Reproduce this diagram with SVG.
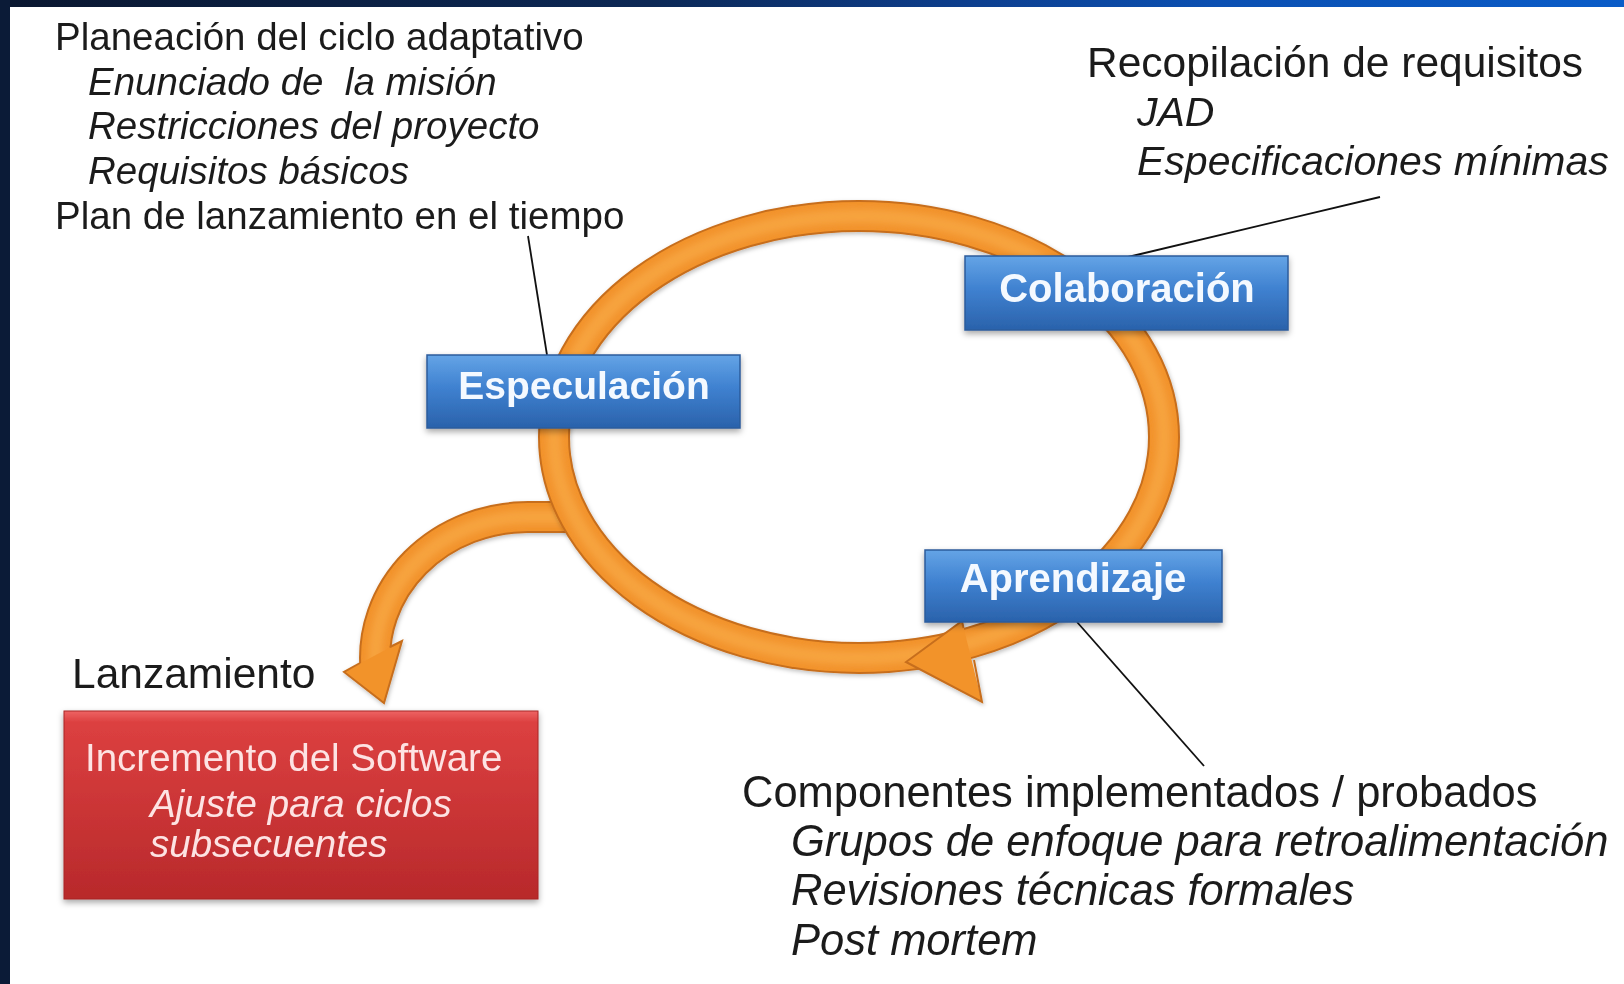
<svg xmlns="http://www.w3.org/2000/svg" width="1624" height="984" viewBox="0 0 1624 984">
<defs>
  <linearGradient id="topBand" x1="0" y1="0" x2="1" y2="0">
    <stop offset="0" stop-color="#0a1730"/>
    <stop offset="0.4" stop-color="#0c2855"/>
    <stop offset="0.6" stop-color="#0d3f8f"/>
    <stop offset="0.75" stop-color="#0b50b2"/>
    <stop offset="1" stop-color="#0a5cc8"/>
  </linearGradient>
  <linearGradient id="blueBox" x1="0" y1="0" x2="0" y2="1">
    <stop offset="0" stop-color="#64a4e6"/>
    <stop offset="0.45" stop-color="#3f81d0"/>
    <stop offset="1" stop-color="#2a62ab"/>
  </linearGradient>
  <linearGradient id="redBox" x1="0" y1="0" x2="0" y2="1">
    <stop offset="0" stop-color="#ee6464"/>
    <stop offset="0.06" stop-color="#dc4040"/>
    <stop offset="1" stop-color="#b8292b"/>
  </linearGradient>
  <filter id="shadow" x="-10%" y="-20%" width="120%" height="160%">
    <feDropShadow dx="0" dy="3" stdDeviation="3" flood-color="#000" flood-opacity="0.35"/>
  </filter>
  <filter id="soft" x="-10%" y="-10%" width="120%" height="125%">
    <feDropShadow dx="1" dy="2" stdDeviation="2" flood-color="#000" flood-opacity="0.25"/>
  </filter>
  <filter id="blur" x="-10%" y="-10%" width="120%" height="120%">
    <feGaussianBlur stdDeviation="3"/>
  </filter>
</defs>
<style>
  .t{font-family:"Liberation Sans",Arial,sans-serif;fill:#1b1b1b}
  .l{font-size:38.5px}
  .r{font-size:42.5px}
  .ri{font-size:41px}
  .b{font-size:43.5px}
  .i{font-style:italic}
  .box{font-family:"Liberation Sans",Arial,sans-serif;font-weight:bold;fill:#f4f9ff;text-anchor:middle}
  .rt{font-family:"Liberation Sans",Arial,sans-serif;font-size:38.5px;fill:#fde3e3}
  .lead{stroke:#111;stroke-width:1.8;fill:none}
  .edge{fill:none;stroke:#c76e1d;stroke-width:32}
  .body{fill:none;stroke:#f2932c;stroke-width:28}
  .shine{fill:none;stroke:#f9ad4c;stroke-width:14;opacity:0.6}
  .blue{fill:url(#blueBox);stroke:#2b5c9c;stroke-width:1.5}
</style>

<rect x="0" y="0" width="1624" height="984" fill="#ffffff"/>
<rect x="0" y="0" width="1624" height="7" fill="url(#topBand)"/>
<rect x="0" y="0" width="10" height="984" fill="#0b1b37"/>

<g id="flecha-lanzamiento" filter="url(#soft)">
  <path class="edge" d="M575,517 L528,517 A153,141 0 0 0 375.6,670"/>
  <path class="body" d="M575,517 L528,517 A153,141 0 0 0 375.6,670"/>
  <path class="shine" filter="url(#blur)" d="M575,517 L528,517 A153,141 0 0 0 375.6,668"/>
  <polygon points="344,672 384,703 402,641" fill="#f2932c"/>
  <path d="M360,663 L344,672 L384,703 L402,641 L390,647" fill="none" stroke="#c76e1d" stroke-width="2"/>
</g>

<g id="ciclo" filter="url(#soft)">
  <ellipse class="edge" cx="859" cy="437" rx="305" ry="221"/>
  <ellipse class="body" cx="859" cy="437" rx="305" ry="221"/>
  <ellipse class="shine" filter="url(#blur)" cx="859" cy="437" rx="305" ry="221"/>
  <polygon points="906,662 962,621 982,702" fill="#f2932c"/>
  <path d="M963.5,628 L962,621 L906,662 L982,702 L974,660" fill="none" stroke="#c76e1d" stroke-width="2"/>
</g>

<g id="connectors">
  <line class="lead" x1="528" y1="236" x2="547" y2="355"/>
  <line class="lead" x1="1128" y1="257" x2="1380" y2="197"/>
  <line class="lead" x1="1077" y1="622" x2="1204" y2="766"/>
</g>

<g id="especulacion">
  <rect class="blue" x="427" y="355" width="313" height="73" filter="url(#shadow)"/>
  <text class="box" x="584" y="399" font-size="39">Especulación</text>
</g>
<g id="colaboracion">
  <rect class="blue" x="965" y="256" width="323" height="74" filter="url(#shadow)"/>
  <text class="box" x="1127" y="302" font-size="40">Colaboración</text>
</g>
<g id="aprendizaje">
  <rect class="blue" x="925" y="550" width="297" height="72" filter="url(#shadow)"/>
  <text class="box" x="1073" y="592" font-size="40">Aprendizaje</text>
</g>

<g id="planeacion">
  <text class="t l" x="55" y="50">Planeación del ciclo adaptativo</text>
  <text class="t l i" x="88" y="94.5" xml:space="preserve" style="white-space:pre">Enunciado de  la misión</text>
  <text class="t l i" x="88" y="139">Restricciones del proyecto</text>
  <text class="t l i" x="88" y="184">Requisitos básicos</text>
  <text class="t l" x="55" y="229">Plan de lanzamiento en el tiempo</text>
</g>

<g id="recopilacion">
  <text class="t r" x="1087" y="77">Recopilación de requisitos</text>
  <text class="t ri i" x="1137" y="126">JAD</text>
  <text class="t ri i" x="1137" y="175">Especificaciones mínimas</text>
</g>

<g id="componentes">
  <text class="t b" x="742" y="807">Componentes implementados / probados</text>
  <text class="t b i" x="791" y="856">Grupos de enfoque para retroalimentación</text>
  <text class="t b i" x="791" y="905">Revisiones técnicas formales</text>
  <text class="t b i" x="791" y="955">Post mortem</text>
</g>

<g id="lanzamiento">
  <text class="t" x="72" y="688" font-size="42.5">Lanzamiento</text>
</g>

<g id="incremento">
  <rect x="64" y="711" width="474" height="188" fill="url(#redBox)" stroke="#a82626" stroke-width="1" filter="url(#shadow)"/>
  <text class="rt" x="85" y="771">Incremento del Software</text>
  <text class="rt i" x="150" y="817">Ajuste para ciclos</text>
  <text class="rt i" x="150" y="857">subsecuentes</text>
</g>
</svg>
